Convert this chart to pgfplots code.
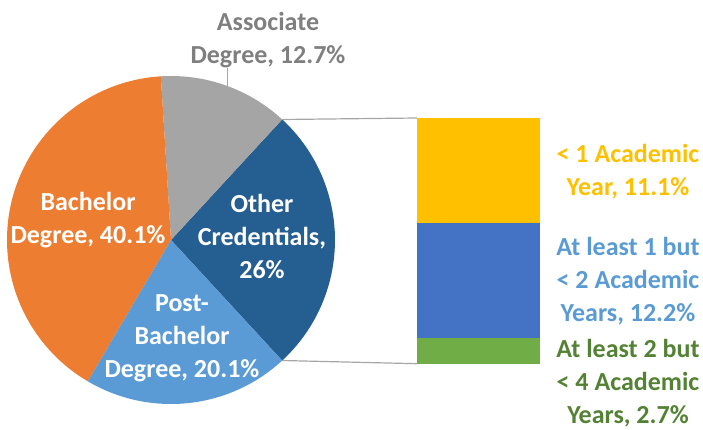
\documentclass[border=0pt]{standalone}
\usepackage{pgfplots}
\pgfplotsset{compat=1.18}
\usepackage{fontspec}
\setmainfont{Carlito}
\definecolor{cOther}{HTML}{255E91}
\definecolor{cAssoc}{HTML}{A5A5A5}
\definecolor{cBach}{HTML}{ED7D31}
\definecolor{cPost}{HTML}{5B9BD5}
\definecolor{cYel}{HTML}{FFC000}
\definecolor{cBlu}{HTML}{4472C4}
\definecolor{cGrn}{HTML}{70AD47}
\definecolor{tGray}{HTML}{7F7F7F}
\definecolor{tGrn}{HTML}{548235}
\definecolor{lGray}{HTML}{A6A6A6}
\begin{document}
\begin{tikzpicture}[every node/.style={font=\fontsize{26bp}{33bp}\selectfont\bfseries, align=center, inner sep=0pt}]
\useasboundingbox (0,0) rectangle (703bp,430bp);
% ---------- pie (values in percent) ----------
\begin{axis}[at={(0,0)}, anchor=south west, x=1bp, y=1bp,
  xmin=0, xmax=703, ymin=0, ymax=430, hide axis, clip=false]
\pgfmathsetmacro{\pietotal}{26+12.7+40.1+20.1}
\pgfmathsetmacro{\cumang}{-26/\pietotal*180}
\xdef\cumang{\cumang}
\foreach \v/\c in {26/cOther,12.7/cAssoc,40.1/cBach,20.1/cPost}{
  \pgfmathsetmacro{\a}{\cumang}
  \pgfmathsetmacro{\b}{\cumang+\v/\pietotal*360}
  \edef\temp{\noexpand\fill[\c] (axis cs:171,190) -- ++(\a:164bp) arc[start angle=\a, end angle=\b, radius=164bp] -- cycle;}
  \temp
  \xdef\cumang{\b}
}
% connector lines
\addplot[lGray, line width=1.2bp] coordinates {(282.2,310.5) (417,312)};
\addplot[lGray, line width=1.2bp] coordinates {(282.2,69.5) (417,66.3)};
% leader line for Associate label
\addplot[lGray, line width=1bp] coordinates {(227,362) (227,343)};
% labels
\node[text=tGray] at (axis cs:268,390) {Associate\\Degree, 12.7\%};
\node[text=white] at (axis cs:88,209.5) {Bachelor\\Degree, 40.1\%};
\node[text=white] at (axis cs:262,194) {Other\\Credentials,\\26\%};
\node[text=white] at (axis cs:182,92) {Post-\\Bachelor\\Degree, 20.1\%};
\node[text=cYel] at (axis cs:628,258.5) {< 1 Academic\\Year, 11.1\%};
\node[text=cPost] at (axis cs:628,149) {At least 1 but\\< 2 Academic\\Years, 12.2\%};
\node[text=tGrn] at (axis cs:628,46.5) {At least 2 but\\< 4 Academic\\Years, 2.7\%};
\end{axis}
% ---------- bar of "Other Credentials" ----------
\begin{axis}[at={(417bp,66.3bp)}, anchor=south west, x=123bp, y=9.45bp,
  xmin=0, xmax=1, ymin=0, ymax=26, hide axis, clip=false,
  ybar stacked, bar width=123bp, bar shift=0pt]
\addplot[fill=cGrn, draw=none] coordinates {(0.5,2.7)};
\addplot[fill=cBlu, draw=none] coordinates {(0.5,12.2)};
\addplot[fill=cYel, draw=none] coordinates {(0.5,11.1)};
\end{axis}
\end{tikzpicture}
\end{document}
